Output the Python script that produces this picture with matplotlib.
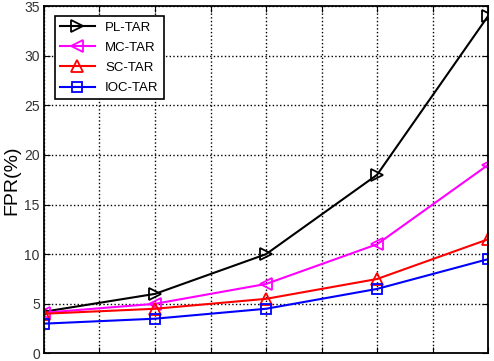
import matplotlib.pyplot as plt

plt.rcParams['font.family'] = ['Liberation Sans', 'DejaVu Sans']

# 数据
x = [0, 2, 4, 6, 8]
pl_tar = [4.2, 6, 10, 18, 34]
mc_tar = [4.1, 5, 7, 11, 19]
sc_tar = [4.0, 4.5, 5.5, 7.5, 11.5]
ioc_tar = [3.0, 3.5, 4.5, 6.5, 9.5]
y_ticks = [0, 5, 10, 15, 20, 25, 30, 35]

fig = plt.figure(figsize=(4.94, 3.61), dpi=100)
ax = fig.add_axes([0.089, 0.021, 0.899, 0.962])

ax.plot(x, pl_tar, color='black', marker='>', mfc='none', ms=8, mew=1.3, lw=1.5, label='PL-TAR')
ax.plot(x, mc_tar, color='#ff00ff', marker='<', mfc='none', ms=8, mew=1.3, lw=1.5, label='MC-TAR')
ax.plot(x, sc_tar, color='red', marker='^', mfc='none', ms=8, mew=1.3, lw=1.5, label='SC-TAR')
ax.plot(x, ioc_tar, color='#0000ff', marker='s', mfc='none', ms=7, mew=1.3, lw=1.5, label='IOC-TAR')

ax.set_xlim(0, 8)
ax.set_ylim(0, 35)
ax.set_xticks(range(9))
ax.set_xticklabels([])
ax.set_yticks(y_ticks)
ax.tick_params(direction='in', top=True, right=True, labelsize=10, length=4, colors='black')
ax.tick_params(axis='y', labelcolor='#333333', pad=3)
ax.grid(True, color='black', linestyle=':', linewidth=1)
for s in ax.spines.values():
    s.set_linewidth(1.3)

ax.set_ylabel('FPR(%)', fontsize=14, labelpad=3)

leg = ax.legend(loc='upper left', fontsize=9.5, fancybox=False, framealpha=1,
                edgecolor='black', borderpad=0.4, labelspacing=0.6, handlelength=2.6,
                bbox_to_anchor=(0.01, 0.99))
leg.get_frame().set_linewidth(1.2)

plt.savefig('out.png', dpi=100)
